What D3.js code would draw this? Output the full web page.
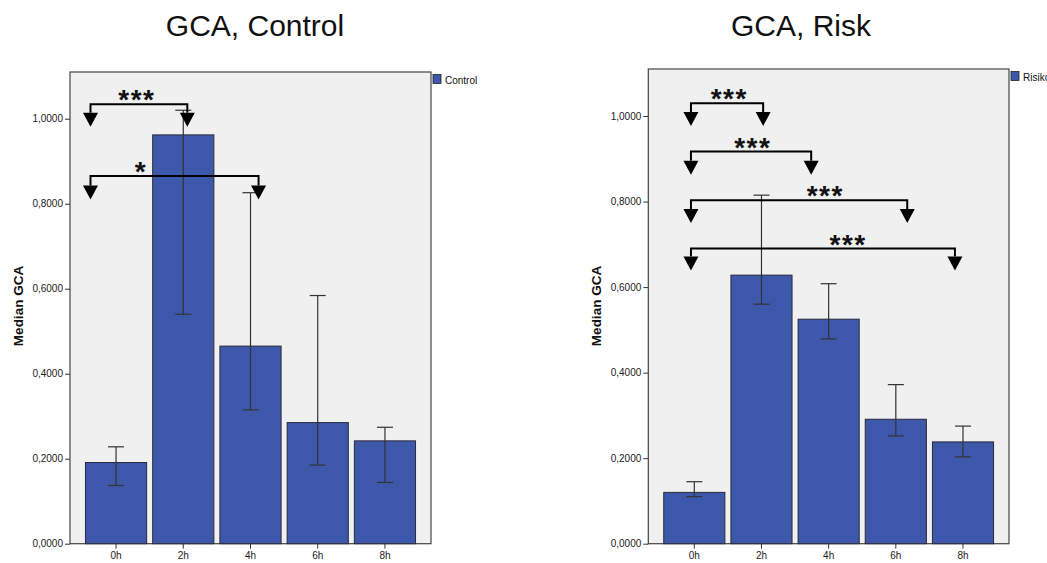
<!DOCTYPE html>
<meta charset="utf-8">
<body style="margin:0;background:#fff">
<style>
  text { font-family: "Liberation Sans", Arial, sans-serif; fill: #111; }
  .tick text { font-size: 10px; fill: #222; }
  .tick line { stroke: #333; }
  .title { font-size: 30px; }
  .ylab { font-size: 13.5px; font-weight: bold; }
  .leg { font-size: 10px; }
  .stars { font-size: 28px; font-weight: bold; letter-spacing: 1.5px; }
</style>
<script src="https://d3js.org/d3.v7.min.js"></script>
<script>

var width = 1047, height = 563;

var categories = ["0h", "2h", "4h", "6h", "8h"];
var yTicks = [0, 0.2, 0.4, 0.6, 0.8, 1.0];

// medians and error bar ends
var controlMedian = [0.191, 0.962, 0.465, 0.285, 0.242];
var controlLow    = [0.137, 0.540, 0.315, 0.185, 0.144];
var controlHigh   = [0.228, 1.020, 0.826, 0.584, 0.274];

var riskMedian = [0.120, 0.628, 0.525, 0.291, 0.238];
var riskLow    = [0.110, 0.560, 0.479, 0.252, 0.203];
var riskHigh   = [0.145, 0.815, 0.608, 0.372, 0.275];

// significance brackets: ends in category index units, heights in GCA units
var controlBrackets = [
  {from: -0.38, to: 1.06, line: 1.034, tip: 0.981, label: "***", at: 0.31},
  {from: -0.38, to: 2.12, line: 0.865, tip: 0.810, label: "*",   at: 0.37}
];
var riskBrackets = [
  {from: -0.05, to: 1.025, line: 1.030, tip: 0.977, label: "***", at: 0.52},
  {from: -0.05, to: 1.74,  line: 0.917, tip: 0.863, label: "***", at: 0.87},
  {from: -0.05, to: 3.17,  line: 0.803, tip: 0.750, label: "***", at: 1.95},
  {from: -0.05, to: 3.88,  line: 0.690, tip: 0.639, label: "***", at: 2.29}
];

var svg = d3.select("body").append("svg")
  .attr("width", width)
  .attr("height", height);

function panel(p) {
  var g = svg.append("g");
  var data = categories.map(function(c, i) {
    return {cat: c, v: p.median[i], lo: p.low[i], hi: p.high[i]};
  });

  var x = d3.scaleBand().domain(categories).range([p.left, p.right])
    .paddingInner(0.09).paddingOuter(0.23);
  var y = d3.scaleLinear().domain([0, 1.11]).range([p.bottom, p.top]);
  var xi = d3.scaleLinear().domain([0, 1])
    .range([x(categories[0]) + x.bandwidth() / 2, x(categories[1]) + x.bandwidth() / 2]);

  g.append("rect")
    .attr("x", p.left).attr("y", p.top)
    .attr("width", p.right - p.left).attr("height", p.bottom - p.top)
    .attr("fill", "#f0f0f0").attr("stroke", "#444").attr("stroke-width", 1.2);

  g.append("text").attr("class", "title")
    .attr("x", p.titleX).attr("y", 36).attr("text-anchor", "middle")
    .text(p.title);

  g.append("text").attr("class", "ylab")
    .attr("transform", "translate(" + p.ylabX + ",306) rotate(-90)")
    .attr("text-anchor", "middle")
    .text("Median GCA");

  var ya = g.append("g").attr("transform", "translate(" + p.left + ",0)")
    .call(d3.axisLeft(y).tickValues(yTicks).tickSize(5).tickPadding(2)
      .tickFormat(function(d) { return d3.format(".4f")(d).replace(".", ","); }));
  ya.select(".domain").remove();

  var xa = g.append("g").attr("transform", "translate(0," + p.bottom + ")")
    .call(d3.axisBottom(x).tickSize(5).tickPadding(3));
  xa.select(".domain").remove();

  g.selectAll(".bar").data(data).enter().append("rect")
    .attr("class", "bar")
    .attr("x", function(d) { return x(d.cat); })
    .attr("y", function(d) { return y(d.v); })
    .attr("width", x.bandwidth())
    .attr("height", function(d) { return y(0) - y(d.v); })
    .attr("fill", "#3d57ab")
    .attr("stroke", "#2a2a3a").attr("stroke-width", 1);

  // error bars
  var eb = g.selectAll(".err").data(data).enter().append("g")
    .attr("class", "err").attr("stroke", "#333").attr("stroke-width", 1.2);
  eb.append("line")
    .attr("x1", function(d) { return x(d.cat) + x.bandwidth() / 2; })
    .attr("x2", function(d) { return x(d.cat) + x.bandwidth() / 2; })
    .attr("y1", function(d) { return y(d.lo); })
    .attr("y2", function(d) { return y(d.hi); });
  ["lo", "hi"].forEach(function(k) {
    eb.append("line")
      .attr("x1", function(d) { return x(d.cat) + x.bandwidth() / 2 - 8; })
      .attr("x2", function(d) { return x(d.cat) + x.bandwidth() / 2 + 8; })
      .attr("y1", function(d) { return y(d[k]); })
      .attr("y2", function(d) { return y(d[k]); });
  });

  // legend
  g.append("rect").attr("x", p.right + 2).attr("y", p.top + 2.5)
    .attr("width", 8).attr("height", 9)
    .attr("fill", "#3d57ab").attr("stroke", "#222").attr("stroke-width", 0.8);
  g.append("text").attr("class", "leg")
    .attr("x", p.right + 14).attr("y", p.top + 11.5)
    .text(p.legend);

  // brackets
  var br = g.selectAll(".br").data(p.brackets).enter().append("g").attr("class", "br");
  br.append("path")
    .attr("fill", "none").attr("stroke", "#000").attr("stroke-width", 2)
    .attr("d", function(d) {
      var t = y(d.tip) - 14;
      return "M" + xi(d.from) + "," + t + "V" + y(d.line) + "H" + xi(d.to) + "V" + t;
    });
  ["from", "to"].forEach(function(k) {
    br.append("path").attr("fill", "#000")
      .attr("d", function(d) {
        var cx = xi(d[k]), t = y(d.tip) - 14;
        return "M" + (cx - 7.5) + "," + t + "L" + (cx + 7.5) + "," + t + "L" + cx + "," + y(d.tip) + "Z";
      });
  });
  br.append("text").attr("class", "stars")
    .attr("x", function(d) { return xi(d.at); })
    .attr("y", function(d) { return y(d.line) + 5; })
    .attr("text-anchor", "middle")
    .text(function(d) { return d.label; });
}

panel({
  title: "GCA, Control", titleX: 255, ylabX: 23, legend: "Control",
  left: 70, right: 431, top: 72, bottom: 543.7,
  median: controlMedian, low: controlLow, high: controlHigh, brackets: controlBrackets
});
panel({
  title: "GCA, Risk", titleX: 801, ylabX: 601, legend: "Risikogruppe",
  left: 648.3, right: 1009, top: 69, bottom: 543.7,
  median: riskMedian, low: riskLow, high: riskHigh, brackets: riskBrackets
});
</script>
</body>
